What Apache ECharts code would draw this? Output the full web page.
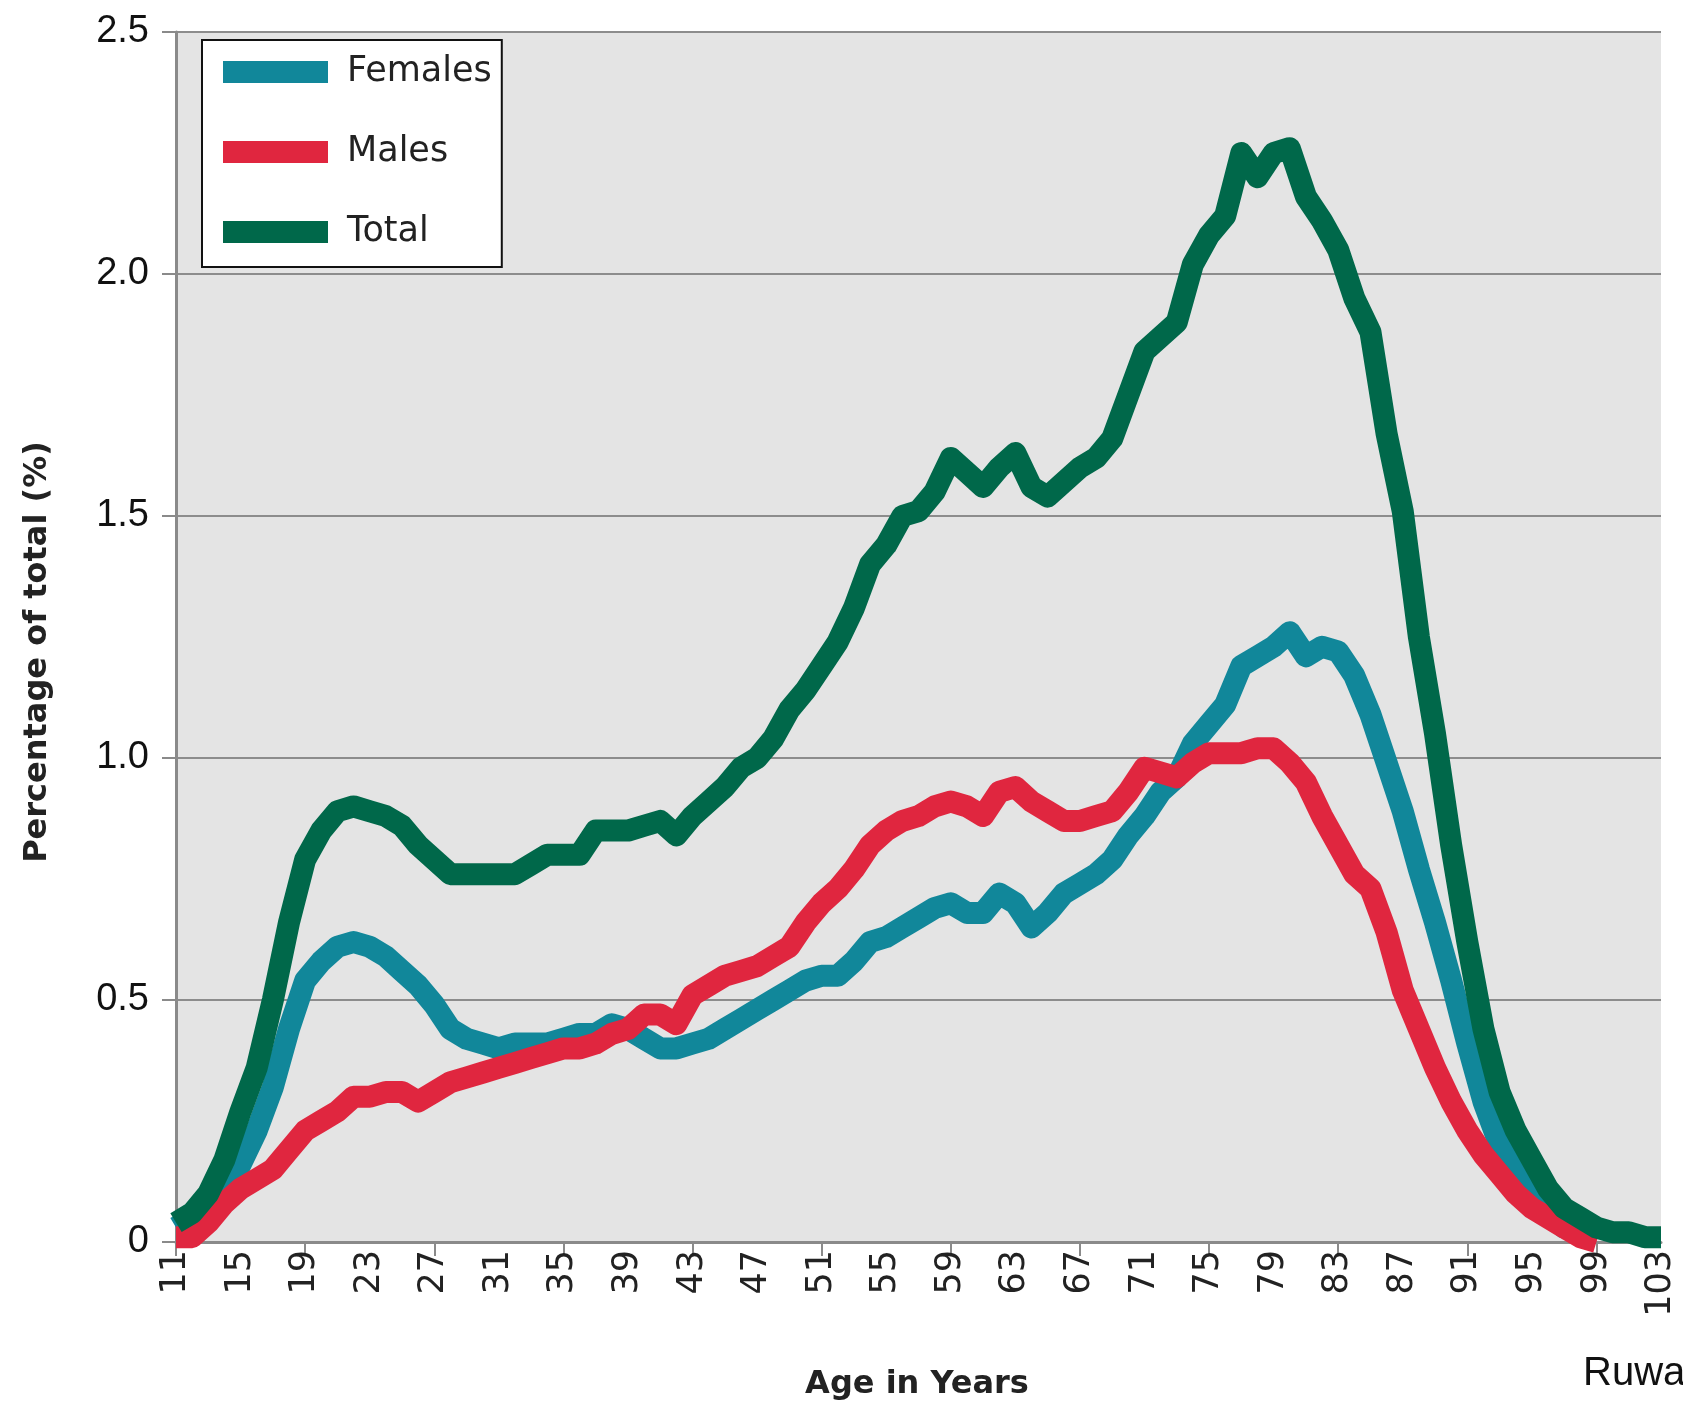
<!DOCTYPE html>
<html>
<head>
<meta charset="utf-8">
<script src="https://cdn.jsdelivr.net/npm/echarts/dist/echarts.min.js"></script>
<style>
html,body{margin:0;padding:0;background:#fff;}
#chart{width:1683px;height:1408px;}
</style>
</head>
<body>
<div id="chart"></div>
<script>
// Ages 11..103
const ages = [];
for (let a = 11; a <= 103; a++) ages.push(String(a));

const seriesNames = ['Females', 'Males', 'Total'];

const females = [
  0.03,0.05,0.07,0.10,0.16,0.23,0.32,0.44,0.54,0.58,
  0.61,0.62,0.61,0.59,0.56,0.53,0.49,0.44,0.42,0.41,
  0.40,0.41,0.41,0.41,0.42,0.43,0.43,0.45,0.44,0.42,
  0.40,0.40,0.41,0.42,0.44,0.46,0.48,0.50,0.52,0.54,
  0.55,0.55,0.58,0.62,0.63,0.65,0.67,0.69,0.70,0.68,
  0.68,0.72,0.70,0.65,0.68,0.72,0.74,0.76,0.79,0.84,
  0.88,0.93,0.96,1.03,1.07,1.11,1.19,1.21,1.23,1.26,
  1.21,1.23,1.22,1.17,1.09,0.99,0.89,0.77,0.66,0.54,
  0.41,0.29,0.20,0.14,0.10,0.06,0.03,0.02,0.01,null,
  null,null,null
];

const males = [
  0.01,0.01,0.04,0.08,0.11,0.13,0.15,0.19,0.23,0.25,
  0.27,0.30,0.30,0.31,0.31,0.29,0.31,0.33,0.34,0.35,
  0.36,0.37,0.38,0.39,0.40,0.40,0.41,0.43,0.44,0.47,
  0.47,0.45,0.51,0.53,0.55,0.56,0.57,0.59,0.61,0.66,
  0.70,0.73,0.77,0.82,0.85,0.87,0.88,0.90,0.91,0.90,
  0.88,0.93,0.94,0.91,0.89,0.87,0.87,0.88,0.89,0.93,
  0.98,0.97,0.96,0.99,1.01,1.01,1.01,1.02,1.02,0.99,
  0.95,0.88,0.82,0.76,0.73,0.64,0.52,0.44,0.36,0.29,
  0.23,0.18,0.14,0.10,0.07,0.05,0.03,0.01,0.00,null,
  null,null,null
];

const total = [
  0.04,0.06,0.10,0.17,0.27,0.36,0.50,0.66,0.79,0.85,
  0.89,0.90,0.89,0.88,0.86,0.82,0.79,0.76,0.76,0.76,
  0.76,0.76,0.78,0.80,0.80,0.80,0.85,0.85,0.85,0.86,
  0.87,0.84,0.88,0.91,0.94,0.98,1.00,1.04,1.10,1.14,
  1.19,1.24,1.31,1.40,1.44,1.50,1.51,1.55,1.62,1.59,
  1.56,1.60,1.63,1.56,1.54,1.57,1.60,1.62,1.66,1.75,
  1.84,1.87,1.90,2.02,2.08,2.12,2.25,2.20,2.25,2.26,
  2.16,2.11,2.05,1.95,1.88,1.67,1.51,1.25,1.05,0.82,
  0.62,0.44,0.31,0.23,0.17,0.11,0.07,0.05,0.03,0.02,
  0.02,0.01,0.01
];

const colors = ['#11879a', '#e0263f', '#00684a'];
const seriesData = [females, males, total];

const chart = echarts.init(document.getElementById('chart'), null, {renderer: 'canvas'});

const option = {
  animation: false,
  backgroundColor: '#ffffff',
  grid: {
    left: 176, right: 22, top: 32, bottom: 166,
    show: true, backgroundColor: '#e4e4e4', borderWidth: 0
  },
  legend: {
    data: seriesNames,
    orient: 'vertical',
    left: 202, top: 40,
    icon: 'rect',
    itemWidth: 105, itemHeight: 22,
    itemGap: 40,
    padding: [12, 10, 15, 21],
    backgroundColor: '#ffffff',
    borderColor: '#111111',
    borderWidth: 2,
    textStyle: {
      fontFamily: 'DejaVu Sans', fontSize: 35, color: '#222',
      lineHeight: 40, padding: [0, 0, 0, 14]
    }
  },
  xAxis: {
    type: 'category',
    data: ages,
    boundaryGap: false,
    axisLine: {show: true, lineStyle: {color: '#8a8a8a', width: 3}},
    axisTick: {show: true, interval: 7, length: 14, lineStyle: {color: '#8a8a8a', width: 2}},
    axisLabel: {
      interval: 3, rotate: 90, margin: 8,
      fontFamily: 'DejaVu Sans', fontSize: 35, color: '#222'
    },
    splitLine: {show: false}
  },
  yAxis: {
    type: 'value',
    min: 0, max: 2.5, interval: 0.5,
    axisLine: {show: true, lineStyle: {color: '#8a8a8a', width: 3}},
    axisTick: {show: true, length: 14, lineStyle: {color: '#8a8a8a', width: 2}},
    axisLabel: {
      margin: 27,
      fontFamily: 'Liberation Sans', fontSize: 38, color: '#111',
      formatter: v => (v === 0 ? '0' : v.toFixed(1))
    },
    splitLine: {show: true, lineStyle: {color: '#8c8c8c', width: 2}}
  },
  series: seriesNames.map((name, i) => ({
    name: name,
    type: 'line',
    data: seriesData[i],
    symbol: 'none',
    smooth: false,
    connectNulls: false,
    lineStyle: {color: colors[i], width: 22, join: 'round', cap: 'butt'},
    itemStyle: {color: colors[i]},
    z: 2 + i
  })),
  graphic: [
    {
      type: 'text', x: 38, y: 652, rotation: Math.PI / 2,
      style: {
        text: 'Percentage of total (%)', align: 'center', verticalAlign: 'middle',
        fontFamily: 'DejaVu Sans', fontWeight: 'bold', fontSize: 32, fill: '#222'
      }
    },
    {
      type: 'text', x: 917, y: 1385,
      style: {
        text: 'Age in Years', align: 'center', verticalAlign: 'middle',
        fontFamily: 'DejaVu Sans', fontWeight: 'bold', fontSize: 32, fill: '#222'
      }
    },
    {
      type: 'text', x: 1583, y: 1374,
      style: {
        text: 'Ruwa', align: 'left', verticalAlign: 'middle',
        fontFamily: 'Liberation Sans', fontSize: 40, fill: '#111'
      }
    }
  ]
};

chart.setOption(option);
</script>
</body>
</html>
